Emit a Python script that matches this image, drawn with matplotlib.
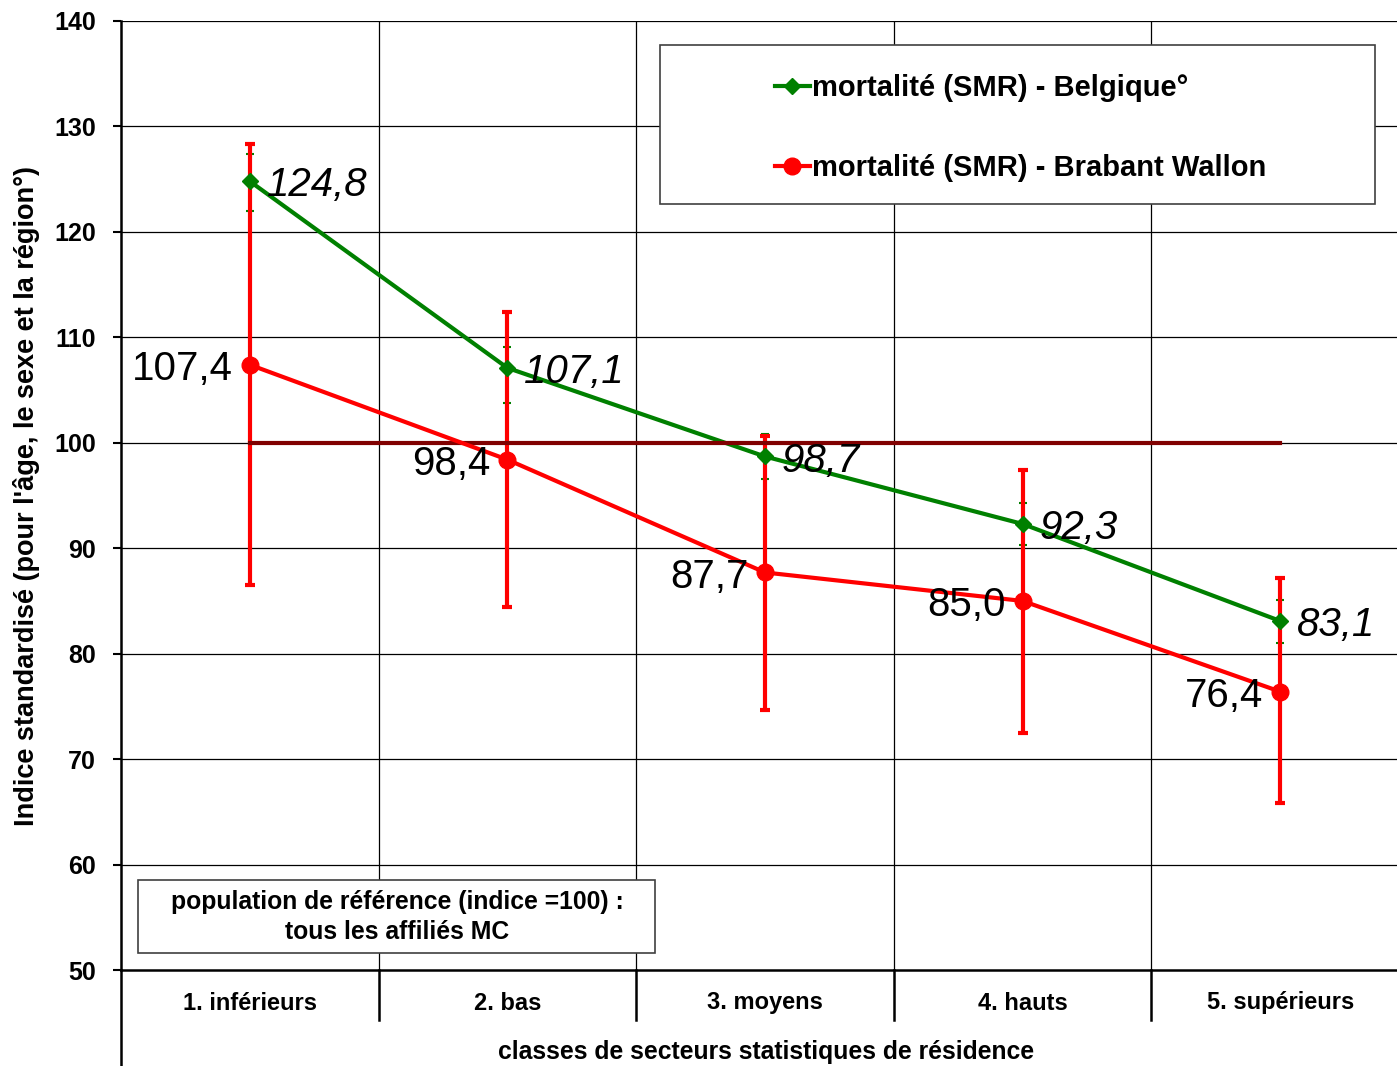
import numpy as np
import matplotlib.pyplot as plt
from matplotlib.lines import Line2D
from matplotlib.patches import Rectangle

categories = ['1. inférieurs', '2. bas', '3. moyens', '4. hauts', '5. supérieurs']
belgique = [124.8, 107.1, 98.7, 92.3, 83.1]
belgique_low = [122.0, 103.8, 96.6, 90.3, 81.0]
belgique_high = [127.4, 109.1, 100.8, 94.3, 85.1]
brabant = [107.4, 98.4, 87.7, 85.0, 76.4]
brabant_low = [86.5, 84.4, 74.7, 72.5, 65.8]
brabant_high = [128.3, 112.4, 100.6, 97.4, 87.2]
reference = 100

bold_font = ['Liberation Sans', 'DejaVu Sans']
plain = ['Liberation Sans', 'DejaVu Sans']

W, H = 1397, 1066
fig = plt.figure(figsize=(W / 100, H / 100), dpi=100)
ax = fig.add_axes([121 / W, 96 / H, 1288 / W, 949 / H])

x = np.arange(len(categories)) + 0.5
ax.set_xlim(0, len(categories))
ax.set_ylim(50, 140)

# grid
for yv in range(60, 141, 10):
    ax.axhline(yv, color='black', lw=0.9, zorder=0)
for xv in range(1, len(categories)):
    ax.axvline(xv, color='black', lw=0.9, zorder=0)

# green CI (dashed, mostly hidden)
gb = np.array(belgique)
ax.errorbar(x, gb, yerr=[gb - np.array(belgique_low), np.array(belgique_high) - gb],
            fmt='none', ecolor='green', elinewidth=1.5, capsize=3, capthick=1.5,
            ls='--', zorder=2)
# red CI
rb = np.array(brabant)
ax.errorbar(x, rb, yerr=[rb - np.array(brabant_low), np.array(brabant_high) - rb],
            fmt='none', ecolor='red', elinewidth=3, capsize=3.5, capthick=3, zorder=3)

ax.plot(x, belgique, color='green', lw=3, marker='D', ms=8, zorder=4)
ax.plot(x, brabant, color='red', lw=3, marker='o', ms=12, zorder=5)
ax.plot([x[0], x[-1]], [reference, reference], color='#800000', lw=3, zorder=4.5)

# data labels
for xi, v in zip(x, belgique):
    ax.annotate(f'{v:.1f}'.replace('.', ','), (xi, v), xytext=(12, -3),
                textcoords='offset points', ha='left', va='center',
                fontsize=29, style='italic', family=plain, zorder=6)
for xi, v in zip(x, brabant):
    ax.annotate(f'{v:.1f}'.replace('.', ','), (xi, v), xytext=(-12, -3),
                textcoords='offset points', ha='right', va='center',
                fontsize=29, family=plain, zorder=6)

# axes styling
for s in ['top', 'right']:
    ax.spines[s].set_visible(False)
ax.spines['left'].set_linewidth(1.8)
ax.spines['bottom'].set_linewidth(1.8)
ax.set_yticks(range(50, 141, 10))
ax.tick_params(axis='y', length=6, width=1.5, labelsize=18, pad=12)
for lab in ax.get_yticklabels():
    lab.set_fontfamily(bold_font)
    lab.set_fontweight('bold')
ax.set_xticks([])
ax.set_ylabel("Indice standardisé (pour l'âge, le sexe et la région°)",
              fontsize=19.5, fontweight='bold', family=bold_font, labelpad=10)

# category table below axis
trans = ax.get_xaxis_transform()
ax.plot([0, 0], [0, -96 / 949], color='black', lw=1.8, transform=trans, clip_on=False)
for xv in range(1, len(categories)):
    ax.plot([xv, xv], [0, -50 / 949], color='black', lw=1.8, transform=trans, clip_on=False)
for xi, c in zip(x, categories):
    ax.text(xi, -33 / 949, c, transform=trans, ha='center', va='center',
            fontsize=17, fontweight='bold', family=bold_font)
fig.text(766 / W, 1 - 1052 / H, 'classes de secteurs statistiques de résidence',
         ha='center', va='center', fontsize=17.8, fontweight='bold', family=bold_font)

# legend box
fig.patches.append(Rectangle((660 / W, 1 - 204 / H), 715 / W, 159 / H,
                             transform=fig.transFigure, facecolor='white',
                             edgecolor='#404040', lw=1.2, zorder=10))
for yy, col, mk, ms, lab in [(86, 'green', 'D', 8, 'mortalité (SMR) - Belgique°'),
                             (166, 'red', 'o', 12, 'mortalité (SMR) - Brabant Wallon')]:
    fig.lines.append(Line2D([775 / W, 810 / W], [1 - yy / H, 1 - yy / H],
                            transform=fig.transFigure, color=col, lw=3, zorder=11))
    fig.lines.append(Line2D([792 / W], [1 - yy / H], transform=fig.transFigure,
                            color=col, marker=mk, ms=ms, zorder=11))
    fig.text(812 / W, 1 - (yy + 2) / H, lab, ha='left', va='center', fontsize=21,
             fontweight='bold', family=bold_font, zorder=12)

# reference note box
fig.patches.append(Rectangle((138 / W, 1 - 953 / H), 517 / W, 73 / H,
                             transform=fig.transFigure, facecolor='white',
                             edgecolor='#404040', lw=1.2, zorder=10))
fig.text(397 / W, 1 - 917 / H,
         'population de référence (indice =100) :\ntous les affiliés MC',
         ha='center', va='center', fontsize=17.8, fontweight='bold',
         family=bold_font, linespacing=1.3, zorder=12)

fig.savefig('out.png', dpi=100)
